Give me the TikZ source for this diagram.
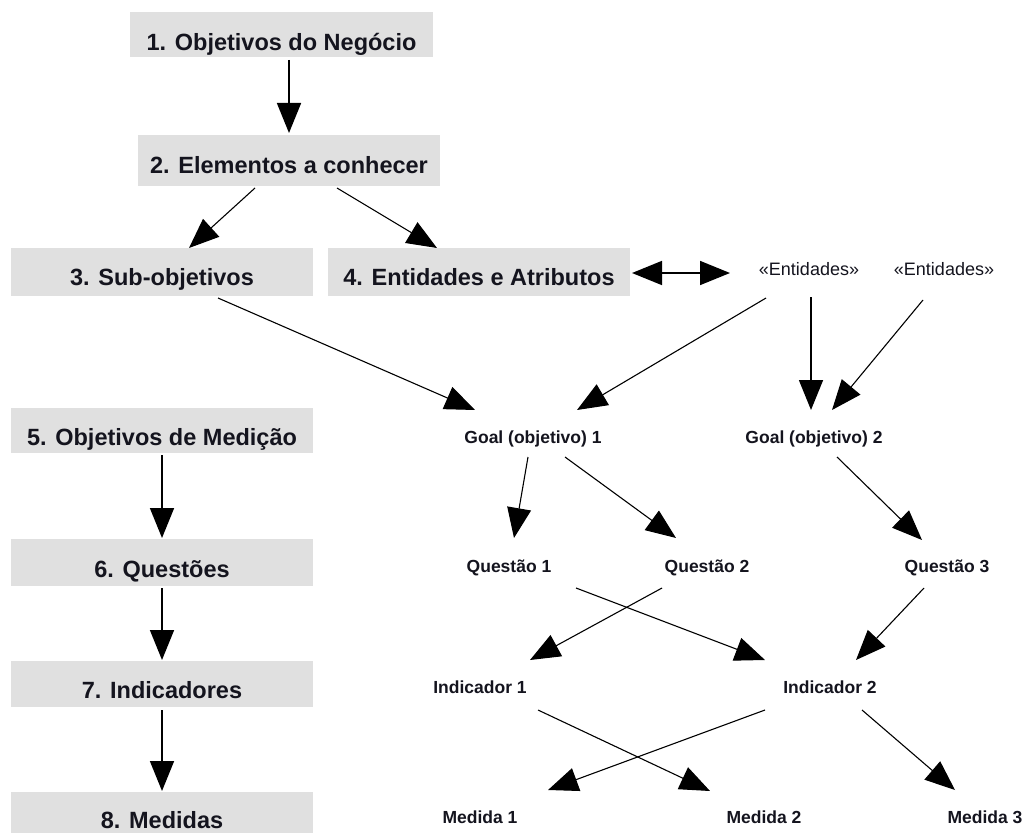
\documentclass[tikz,border=0pt]{standalone}
\usepackage{fontspec}
\setmainfont{Liberation Sans}
\usetikzlibrary{arrows.meta,calc}
\definecolor{boxgray}{RGB}{224,224,224}
\definecolor{txt}{RGB}{20,20,30}
\tikzset{
  boxnode/.style={fill=boxgray, draw=none, inner xsep=0pt, inner ysep=0pt, minimum width=302pt,
    text height=38pt, text depth=9pt, anchor=base, text=txt,
    font=\fontsize{23.5}{28}\selectfont\bfseries},
  lbl/.style={inner sep=0pt, anchor=base, text=txt, font=\fontsize{17.5}{21}\selectfont\bfseries},
  ent/.style={inner sep=0pt, anchor=base, text=txt, font=\fontsize{18}{21}\selectfont},
  arr/.style={line width=1.1pt, -{Triangle[length=30pt,width=24pt]}},
  varr/.style={line width=1.6pt, -{Triangle[length=30pt,width=24pt]}},
  darr/.style={line width=1.6pt, {Triangle[length=30pt,width=24pt]}-{Triangle[length=30pt,width=24pt]}}
}
\begin{document}
\begin{tikzpicture}[x=1pt,y=-1pt]
\path[use as bounding box, clip] (0,0) rectangle (1027,832);
\fill[white] (0,0) rectangle (1027,832);
% left column boxes
\node[boxnode, minimum width=303pt, text height=39pt, text depth=6pt] (b1) at (281.5,51) {1. Objetivos do Negócio};
\node[boxnode, text height=38pt, text depth=13pt] (b2) at (289,173) {2. Elementos a conhecer};
\node[boxnode, text height=37pt, text depth=11pt] (b3) at (162,285) {3. Sub-objetivos};
\node[boxnode, text height=37pt, text depth=11pt] (b4) at (479,285) {4. Entidades e Atributos};
\node[boxnode, text height=37pt, text depth=8pt] (b5) at (162,445) {5. Objetivos de Medição};
\node[boxnode, text height=38pt, text depth=9pt] (b6) at (162,577) {6. Questões};
\node[boxnode, text height=37pt, text depth=9pt] (b7) at (162,698) {7. Indicadores};
\node[boxnode, text height=36pt, text depth=14pt] (b8) at (162,828) {8. Medidas};
% right side labels
\node[ent] (e1) at (809,275) {«Entidades»};
\node[ent] (e2) at (944,275) {«Entidades»};
\node[lbl] (g1) at (533,443) {Goal (objetivo) 1};
\node[lbl] (g2) at (814,443) {Goal (objetivo) 2};
\node[lbl] (q1) at (509,572) {Questão 1};
\node[lbl] (q2) at (707,572) {Questão 2};
\node[lbl] (q3) at (947,572) {Questão 3};
\node[lbl] (i1) at (480,693) {Indicador 1};
\node[lbl] (i2) at (830,693) {Indicador 2};
\node[lbl] (m1) at (480,823) {Medida 1};
\node[lbl] (m2) at (764,823) {Medida 2};
\node[lbl] (m3) at (985,823) {Medida 3};
% connectors
\draw[varr] ($(b1.base)+(7.5,9)$) -- ($(b2.base)+(0,-40)$);
\draw[arr] ($(b2.base)+(-34,15)$) -- ($(b3.base)+(27,-37)$);
\draw[arr] ($(b2.base)+(48,15)$) -- ($(b4.base)+(-42,-37)$);
\draw[darr] ($(b4.base)+(153,-12)$) -- ($(e1.base)+(-79,-2)$);
\draw[arr] ($(b3.base)+(56,13)$) -- ($(g1.base)+(-58,-33)$);
\draw[arr] ($(e1.base)+(-43,23)$) -- ($(g1.base)+(44,-33)$);
\draw[varr] ($(e1.base)+(2,22)$) -- ($(g2.base)+(-3,-33)$);
\draw[arr] ($(e2.base)+(-21,25)$) -- ($(g2.base)+(18,-33)$);
\draw[arr] ($(g1.base)+(-5,14)$) -- ($(q1.base)+(5,-34)$);
\draw[arr] ($(g1.base)+(32,14)$) -- ($(q2.base)+(-31,-34)$);
\draw[arr] ($(g2.base)+(23,14)$) -- ($(q3.base)+(-25,-32)$);
\draw[arr] ($(q1.base)+(67,16)$) -- ($(i2.base)+(-65,-33)$);
\draw[arr] ($(q2.base)+(-45,16)$) -- ($(i1.base)+(50,-33)$);
\draw[arr] ($(q3.base)+(-23,16)$) -- ($(i2.base)+(26,-33)$);
\draw[arr] ($(i1.base)+(58,17)$) -- ($(m2.base)+(-54,-32)$);
\draw[arr] ($(i2.base)+(-65,17)$) -- ($(m1.base)+(68,-33)$);
\draw[arr] ($(i2.base)+(32,17)$) -- ($(m3.base)+(-30,-33)$);
\draw[varr] ($(b5.base)+(0,10)$) -- ($(b6.base)+(0,-39)$);
\draw[varr] ($(b6.base)+(0,11)$) -- ($(b7.base)+(0,-38)$);
\draw[varr] ($(b7.base)+(0,12)$) -- ($(b8.base)+(0,-37)$);
\end{tikzpicture}
\end{document}
